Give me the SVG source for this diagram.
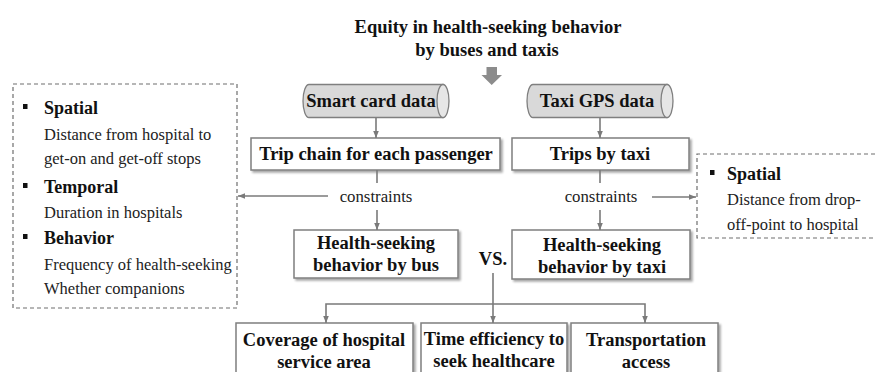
<svg xmlns="http://www.w3.org/2000/svg" width="875" height="372" viewBox="0 0 875 372" font-family="Liberation Serif, Times New Roman, serif">
  <defs>
    <marker id="arr" viewBox="0 0 10 10" refX="10" refY="5" markerWidth="7" markerHeight="7" markerUnits="userSpaceOnUse" orient="auto-start-reverse">
      <path d="M0,1 L10,5 L0,9 Z" fill="#7a7a7a"/>
    </marker>
    <filter id="shadow" x="-5%" y="-10%" width="115%" height="130%">
      <feDropShadow dx="2" dy="2" stdDeviation="1" flood-color="#000" flood-opacity="0.35"/>
    </filter>
  </defs>
  <style>
    text { font-family: 'Liberation Serif', 'Times New Roman', serif; fill: #111; }
    .t { font-size: 18.5px; font-weight: bold; text-anchor: middle; }
    .title { font-size: 18.5px; font-weight: bold; text-anchor: middle; }
    .lbl { font-size: 16.8px; text-anchor: middle; fill: #222; }
    .head { font-size: 18px; font-weight: bold; }
    .sub { font-size: 16.5px; fill: #222; }
    .box { fill: #fff; stroke: #7f7f7f; stroke-width: 1.5; filter: url(#shadow); }
    .cyl { fill: #d9d9d9; stroke: #7f7f7f; stroke-width: 1.3; }
    .cap { fill: #e6e6e6; stroke: #7f7f7f; stroke-width: 1.3; }
    .dash { fill: none; stroke: #6e6e6e; stroke-width: 1.2; stroke-dasharray: 4 3; }
    .bullet { fill: #111; }
    .conn { fill: none; stroke: #7a7a7a; stroke-width: 1.6; }
  </style>

  <rect width="875" height="372" fill="#fff"/>

  <!-- heading and big arrow -->
  <g id="title">
    <text class="title" x="488" y="33">Equity in health-seeking behavior</text>
    <text class="title" x="487" y="56">by buses and taxis</text>
    <path d="M486.5,67 H497 V75 H502 L491.7,85 L481.5,75 H486.5 Z" fill="#8c8c8c"/>
  </g>

  <!-- data sources -->
  <g id="smart-card">
    <path class="cyl" d="M309,84.5 H443 V117.5 H309 A6,16.5 0 0 1 309,84.5 Z"/>
    <ellipse class="cap" cx="443" cy="101" rx="6" ry="16.5"/>
    <text class="t" x="371" y="107">Smart card data</text>
  </g>
  <g id="taxi-gps">
    <path class="cyl" d="M533,84.5 H667 V117.5 H533 A6,16.5 0 0 1 533,84.5 Z"/>
    <ellipse class="cap" cx="667" cy="101" rx="6" ry="16.5"/>
    <text class="t" x="597" y="107">Taxi GPS data</text>
  </g>

  <!-- trip extraction -->
  <g id="trip-chain">
    <rect class="box" x="251" y="138" width="249" height="32"/>
    <text class="t" x="376" y="160">Trip chain for each passenger</text>
  </g>
  <g id="trips-taxi">
    <rect class="box" x="512" y="138" width="177" height="32"/>
    <text class="t" x="600" y="160">Trips by taxi</text>
  </g>

  <!-- behaviour boxes -->
  <g id="health-bus">
    <rect class="box" x="294" y="230" width="164" height="48"/>
    <text class="t" x="376" y="249">Health-seeking</text>
    <text class="t" x="376" y="271">behavior by bus</text>
  </g>
  <g id="health-taxi">
    <rect class="box" x="512" y="230" width="178" height="49"/>
    <text class="t" x="602" y="251">Health-seeking</text>
    <text class="t" x="602" y="273">behavior by taxi</text>
  </g>
  <g id="vs">
    <text class="t" x="493" y="265">VS.</text>
  </g>

  <!-- comparison outcomes -->
  <g id="coverage">
    <rect class="box" x="236" y="323" width="177" height="60"/>
    <text class="t" x="324" y="346">Coverage of hospital</text>
    <text class="t" x="324" y="368">service area</text>
  </g>
  <g id="time-efficiency">
    <rect class="box" x="421" y="323" width="146" height="60"/>
    <text class="t" x="494" y="345">Time efficiency to</text>
    <text class="t" x="494" y="367">seek healthcare</text>
  </g>
  <g id="access">
    <rect class="box" x="571" y="323" width="147" height="60"/>
    <text class="t" x="646" y="346">Transportation</text>
    <text class="t" x="646" y="368">access</text>
  </g>

  <!-- bus constraints -->
  <g id="bus-constraints">
    <rect class="dash" x="13" y="84" width="224" height="224"/>
    <rect class="bullet" x="23" y="104" width="4.5" height="5"/>
    <text class="head" x="44" y="114">Spatial</text>
    <text class="sub" x="44" y="140">Distance from hospital to</text>
    <text class="sub" x="44" y="164">get-on and get-off stops</text>
    <rect class="bullet" x="23" y="183" width="4.5" height="5"/>
    <text class="head" x="44" y="193">Temporal</text>
    <text class="sub" x="44" y="218">Duration in hospitals</text>
    <rect class="bullet" x="23" y="234" width="4.5" height="5"/>
    <text class="head" x="44" y="244">Behavior</text>
    <text class="sub" x="44" y="270">Frequency of health-seeking</text>
    <text class="sub" x="44" y="294">Whether companions</text>
  </g>

  <!-- taxi constraints -->
  <g id="taxi-constraints">
    <path class="dash" d="M875,154 H697 V238 H875"/>
    <rect class="bullet" x="710" y="170" width="4.5" height="5"/>
    <text class="head" x="727" y="180">Spatial</text>
    <text class="sub" x="727" y="205">Distance from drop-</text>
    <text class="sub" x="727" y="230">off-point to hospital</text>
  </g>

  <!-- connectors -->
  <g id="connectors">
    <line class="conn" x1="376" y1="118" x2="376" y2="138" marker-end="url(#arr)"/>
    <line class="conn" x1="600" y1="118" x2="600" y2="138" marker-end="url(#arr)"/>

    <line class="conn" x1="377" y1="170" x2="377" y2="183"/>
    <text class="lbl" x="376" y="202">constraints</text>
    <line class="conn" x1="377" y1="210" x2="377" y2="230" marker-end="url(#arr)"/>
    <line class="conn" x1="328" y1="196" x2="238" y2="196" marker-end="url(#arr)"/>

    <line class="conn" x1="600" y1="170" x2="600" y2="183"/>
    <text class="lbl" x="601" y="202">constraints</text>
    <line class="conn" x1="600" y1="210" x2="600" y2="230" marker-end="url(#arr)"/>
    <line class="conn" x1="652" y1="197" x2="696" y2="197" marker-end="url(#arr)"/>

    <line class="conn" x1="493" y1="273" x2="493" y2="323" marker-end="url(#arr)"/>
    <path class="conn" d="M326,323 V304 H645 V323" marker-start="url(#arr)" marker-end="url(#arr)"/>
  </g>
</svg>
